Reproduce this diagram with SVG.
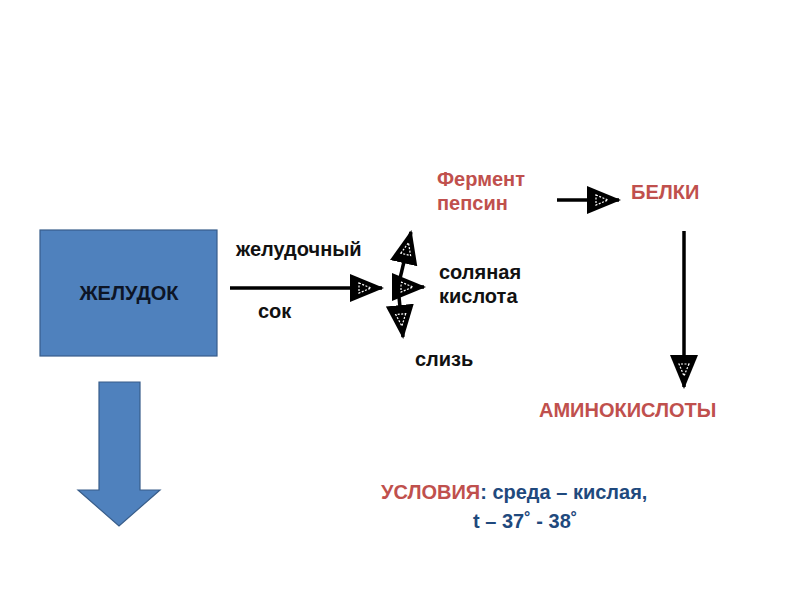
<svg xmlns="http://www.w3.org/2000/svg" width="800" height="600" viewBox="0 0 800 600">
<style>
text{font-family:"Liberation Sans",Arial,sans-serif;font-weight:bold;font-size:20px}
.k{fill:#111}
.r{fill:#C0504D}
.b{fill:#1F497D}
.ln{stroke:#000;stroke-width:3.5;fill:none}
</style>
<defs>
<marker id="ah" markerUnits="userSpaceOnUse" markerWidth="36" markerHeight="32" viewBox="0 -16 36 32" refX="32" refY="0" orient="auto">
<path d="M0,-14 L34,0 L0,14 Z" fill="#000"/>
<path d="M9,-5 L21,0 L9,5 Z" fill="none" stroke="#fff" stroke-width="1.2" stroke-dasharray="2 1.5"/>
</marker>
</defs>
<rect width="800" height="600" fill="#fff"/>
<g id="stomach">
<rect x="40" y="230" width="177" height="126" fill="#4F81BD" stroke="#385D8A" stroke-width="1.2"/>
<text x="129" y="300" text-anchor="middle" fill="#0d1526">ЖЕЛУДОК</text>
</g>
<g id="big-arrow">
<path d="M99,382 L140,382 L140,490 L160,490 L119,526 L78,490 L99,490 Z" fill="#4F81BD" stroke="#385D8A" stroke-width="1.2"/>
</g>
<g id="labels-juice">
<text x="236" y="256" class="k">желудочный</text>
<text x="258" y="318" class="k">сок</text>
</g>
<g id="components">
<text x="439" y="279" class="k">соляная</text>
<text x="439" y="303" class="k">кислота</text>
<text x="415" y="366" class="k">слизь</text>
</g>
<g id="enzyme">
<text x="437" y="186" class="r">Фермент</text>
<text x="437" y="210" class="r">пепсин</text>
</g>
<g id="proteins"><text x="631" y="199" class="r">БЕЛКИ</text></g>
<g id="aminoacids"><text x="539" y="417" class="r">АМИНОКИСЛОТЫ</text></g>
<g id="conditions">
<text x="381" y="499"><tspan class="r">УСЛОВИЯ</tspan><tspan class="b">: среда – кислая,</tspan></text>
<text x="473" y="528" class="b">t – 37˚ - 38˚</text>
</g>
<g id="connectors">
<line class="ln" x1="230" y1="288" x2="382" y2="288" marker-end="url(#ah)"/>
<line class="ln" x1="392" y1="287" x2="424" y2="287" marker-end="url(#ah)"/>
<line class="ln" x1="398" y1="287" x2="411" y2="232" marker-end="url(#ah)"/>
<line class="ln" x1="398" y1="287" x2="403" y2="337" marker-end="url(#ah)"/>
<line class="ln" x1="557" y1="200" x2="619" y2="200" marker-end="url(#ah)"/>
<line class="ln" x1="684" y1="231" x2="684" y2="387" marker-end="url(#ah)"/>
</g>
</svg>
